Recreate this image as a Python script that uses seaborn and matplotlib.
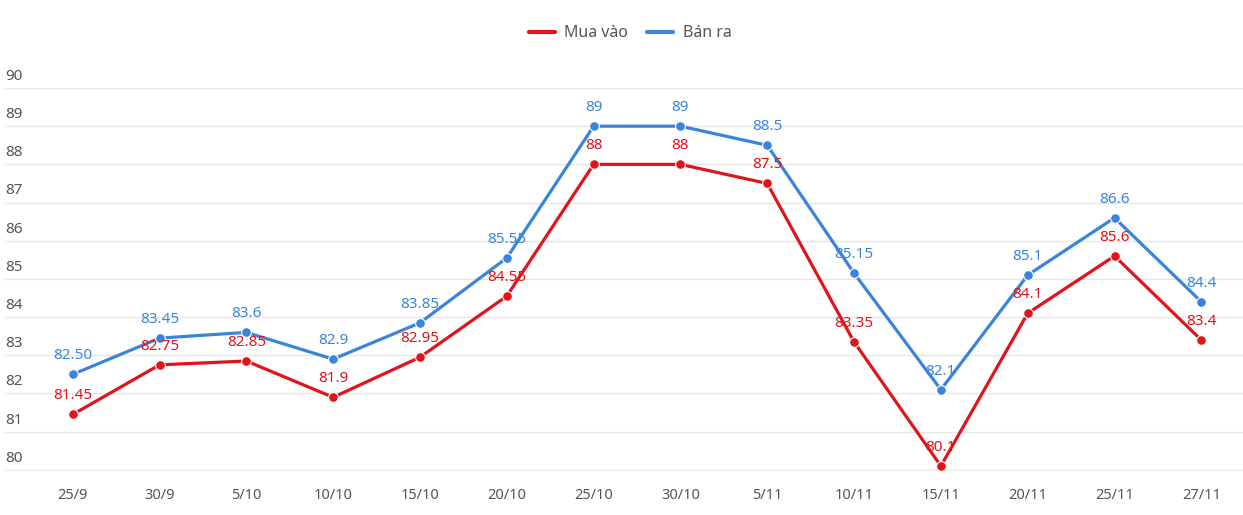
import numpy as np
import pandas as pd
import seaborn as sns
import matplotlib.pyplot as plt
from matplotlib.lines import Line2D
from matplotlib import transforms

"""
Data
"""

dates = ['25/9', '30/9', '5/10', '10/10', '15/10', '20/10', '25/10',
         '30/10', '5/11', '10/11', '15/11', '20/11', '25/11', '27/11']
mua_vao = [81.45, 82.75, 82.85, 81.9, 82.95, 84.55, 88, 88, 87.5,
           83.35, 80.1, 84.1, 85.6, 83.4]
ban_ra = [82.50, 83.45, 83.6, 82.9, 83.85, 85.55, 89, 89, 88.5,
          85.15, 82.1, 85.1, 86.6, 84.4]
mua_labels = ['81.45', '82.75', '82.85', '81.9', '82.95', '84.55', '88', '88',
              '87.5', '83.35', '80.1', '84.1', '85.6', '83.4']
ban_labels = ['82.50', '83.45', '83.6', '82.9', '83.85', '85.55', '89', '89',
              '88.5', '85.15', '82.1', '85.1', '86.6', '84.4']
series_names = ['Mua vào', 'Bán ra']
y_ticks = [80, 81, 82, 83, 84, 85, 86, 87, 88, 89, 90]

red = '#E0141B'
blue = '#3A85DB'

"""
Build frame
"""

df = pd.DataFrame({
    'x': list(range(len(dates))) * 2,
    'value': mua_vao + ban_ra,
    'series': [series_names[0]] * len(dates) + [series_names[1]] * len(dates),
})

sns.set_style('white')
plt.rcParams['font.family'] = ['Noto Sans', 'DejaVu Sans']

fig = plt.figure(figsize=(12.43, 5.15), dpi=100)
ax = fig.add_axes([5 / 1243, 44 / 515, 1238 / 1243, 383 / 515])

sns.lineplot(data=df, x='x', y='value', hue='series',
             palette={series_names[0]: red, series_names[1]: blue},
             linewidth=2.3, marker='o', markersize=7,
             markeredgecolor='white', markeredgewidth=0.8,
             legend=False, ax=ax, zorder=3)

ax.set_xlim(-0.78, 13.48)
ax.set_ylim(79.97, 90)
ax.set_yticks(y_ticks)
ax.set_yticklabels([])
ax.set_xticks(range(len(dates)))
ax.set_xticklabels(dates, color='#555555', fontsize=10.5)
ax.tick_params(axis='x', length=0, pad=12)
ax.tick_params(axis='y', length=0)
ax.set_xlabel('')
ax.set_ylabel('')
ax.grid(axis='y', color='#e6e6e6', linewidth=1.0)
ax.grid(axis='x', visible=False)
for s in ax.spines.values():
    s.set_visible(False)

# y labels sit above the gridlines on the left
trans = transforms.blended_transform_factory(ax.transAxes, ax.transData)
for v in y_ticks:
    ax.annotate(str(v), xy=(0, v), xycoords=trans, xytext=(0, 3),
                textcoords='offset points', ha='left', va='bottom',
                fontsize=11, color='#555555')

# point labels
for i in range(len(dates)):
    ax.annotate(mua_labels[i], xy=(i, mua_vao[i]), xytext=(0, 8),
                textcoords='offset points', ha='center', va='bottom',
                fontsize=11, color=red, zorder=5)
    ax.annotate(ban_labels[i], xy=(i, ban_ra[i]), xytext=(0, 8),
                textcoords='offset points', ha='center', va='bottom',
                fontsize=11, color=blue, zorder=5)

handles = [Line2D([0], [0], color=red, linewidth=3),
           Line2D([0], [0], color=blue, linewidth=3)]
fig.legend(handles, series_names, loc='center', bbox_to_anchor=(0.507, 0.935),
           ncol=2, frameon=False, fontsize=11.5, handlelength=1.6,
           columnspacing=1.2, handletextpad=0.6, labelcolor='#555555')

fig.savefig('out.png', dpi=100)
